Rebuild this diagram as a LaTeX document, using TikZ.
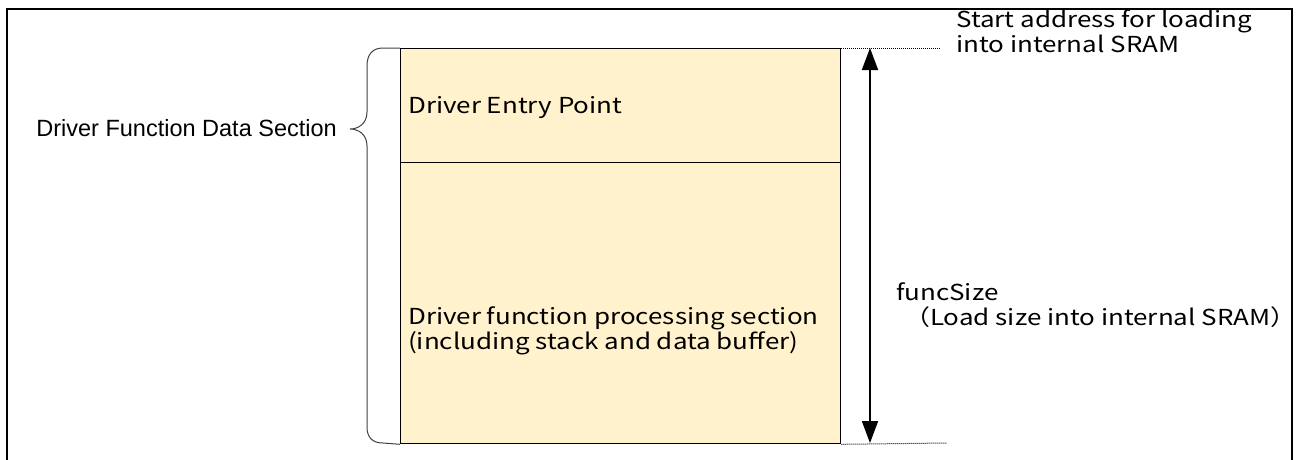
\documentclass[tikz,border=0pt]{standalone}
\usepackage{fontspec}
\setmainfont{Liberation Sans}
\newfontfamily\jpfont[FakeStretch=1.18]{Noto Sans CJK JP}
\usetikzlibrary{arrows.meta}

\definecolor{memfill}{HTML}{FFF2CC}
\definecolor{bracegray}{HTML}{404040}

\tikzset{
  region/.style={draw, line width=1.3pt, fill=memfill, inner sep=0pt, anchor=north west},
  memtext/.style={font=\jpfont\fontsize{22}{24.5}\selectfont, align=left, inner sep=0pt},
  guide/.style={densely dotted, line width=1pt},
}

\begin{document}
\begin{tikzpicture}[x=1pt,y=-1pt]
\useasboundingbox (0,0) rectangle (1302,459);

% outer frame, open at the bottom
\draw[line width=2pt] (7,470) -- (7,9) -- (1292,9) -- (1292,470);

% memory layout
\node[region, minimum width=440pt, minimum height=114pt] (entry) at (400,48) {};
\node[region, minimum width=440pt, minimum height=281pt] (proc) at (400,162) {};
\node[memtext, anchor=west] (entrytext) at (408,108) {Driver Entry Point};
\node[memtext, anchor=west] (proctext) at (408,331) {Driver function processing section\\(including stack and data buffer)};

% brace over the whole section
\draw[bracegray, line width=1pt] (entry.north west) -- (383,48)
  .. controls (372,48) and (367,55) .. (367,66) -- (367,112)
  .. controls (367,124) and (358,129) .. (350,129)
  .. controls (358,129) and (367,134) .. (367,146) -- (367,427)
  .. controls (367,437) and (372,443) .. (383,443) -- (proc.south west);
\node[anchor=east, font=\fontsize{23.5}{27}\selectfont, inner sep=0pt] (sectlabel) at (337,128) {Driver Function Data Section};

% load size arrow with its guide lines
\coordinate (loadtop) at (870,48);
\coordinate (loadbot) at (870,443);
\coordinate (topend) at (940,48);
\coordinate (botend) at (947,443);
\draw[guide] (entry.north east) -- (topend);
\draw[guide] (proc.south east) -- (botend);
\draw[{Triangle[width=16pt,length=22pt]}-{Triangle[width=16pt,length=22pt]}, line width=1.8pt] (loadtop) -- (loadbot);

\node[memtext, anchor=west] (starttext) at (956,31) {Start address for loading\\into internal SRAM};
\node[memtext, anchor=west] (sizetext) at (896,305) {funcSize\\\hspace{8pt}（Load size into internal SRAM）};
\end{tikzpicture}
\end{document}
